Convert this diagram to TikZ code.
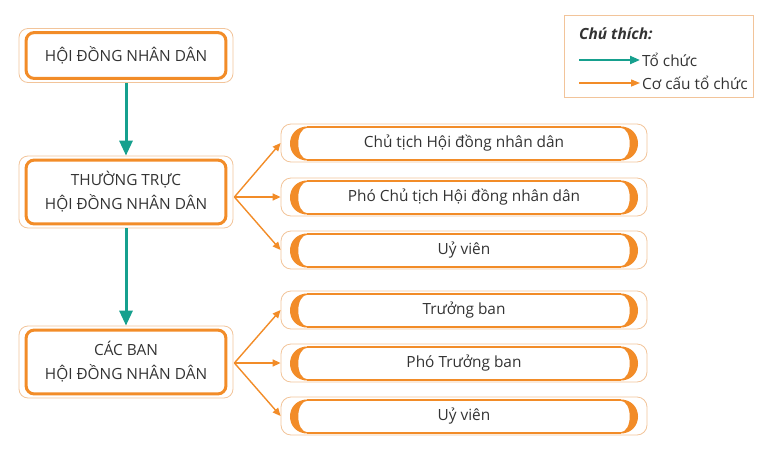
\documentclass[tikz,border=0pt]{standalone}
\usepackage{fontspec}
\setmainfont{Open Sans}
\usetikzlibrary{arrows.meta,calc}
\definecolor{org}{HTML}{F28C28}
\definecolor{pale}{HTML}{F2C49A}
\definecolor{teal1}{HTML}{16A08E}
\definecolor{txt}{HTML}{333333}
\tikzset{
  lbox/.style={draw=pale, line width=0.8pt, rounded corners=9pt, minimum width=214pt,
    inner sep=0pt, align=center, text=txt, font=\fontsize{15.4}{24}\selectfont},
  rbox/.style={draw=pale, line width=0.8pt, rounded corners=10pt, minimum width=366pt,
    minimum height=38pt, inner sep=0pt, text=txt, font=\fontsize{15.4}{18}\selectfont},
  tealarrow/.style={teal1, line width=3pt, -{Triangle[length=15pt,width=13pt]}},
  orgarrow/.style={org, line width=1.4pt, -{Triangle[length=8pt,width=7pt]}},
  legtext/.style={anchor=west, inner sep=0pt, text=txt, font=\fontsize{15.4}{18}\selectfont}
}
\begin{document}
\begin{tikzpicture}[x=1pt,y=-1pt]
\useasboundingbox (0,0) rectangle (764,461);
% left boxes
\node[lbox, minimum height=54pt] (L1) at (126,55.5) {HỘI ĐỒNG NHÂN DÂN};
\node[lbox, minimum height=72pt] (L2) at (126,192) {THƯỜNG TRỰC\\HỘI ĐỒNG NHÂN DÂN};
\node[lbox, minimum height=72pt] (L3) at (126,362) {CÁC BAN\\HỘI ĐỒNG NHÂN DÂN};
\foreach \n in {L1,L2,L3}{
  \draw[org, line width=3pt, rounded corners=8pt]
    ($(\n.north west)+(7.5,4.5)$) rectangle ($(\n.south east)+(-7.5,-4.5)$);
}
% right boxes
\node[rbox] (R1) at (464,143) {\raisebox{-1.5pt}{Chủ tịch Hội đồng nhân dân}};
\node[rbox] (R2) at (464,197) {\raisebox{-1.5pt}{Phó Chủ tịch Hội đồng nhân dân}};
\node[rbox] (R3) at (464,250) {\raisebox{-1.5pt}{Uỷ viên}};
\node[rbox] (R4) at (464,310) {\raisebox{-1.5pt}{Trưởng ban}};
\node[rbox] (R5) at (464,363) {\raisebox{-1.5pt}{Phó Trưởng ban}};
\node[rbox] (R6) at (464,416) {\raisebox{-1.5pt}{Uỷ viên}};
\foreach \n in {R1,R2,R3,R4,R5,R6}{
  \begin{scope}[shift={(\n.center)}]
    \draw[org, line width=1.2pt] (-157,-16) -- (157,-16) (-157,17) -- (157,17);
    \fill[org] (-156,-16.6) .. controls (-180,-16.6) and (-180,17.6) .. (-156,17.6)
      -- (-156,16.4) .. controls (-169,16.4) and (-169,-15.4) .. (-156,-15.4) -- cycle;
    \fill[org] (156,-16.6) .. controls (180,-16.6) and (180,17.6) .. (156,17.6)
      -- (156,16.4) .. controls (169,16.4) and (169,-15.4) .. (156,-15.4) -- cycle;
  \end{scope}
}
% connectors
\draw[tealarrow] (L1.south) -- (L2.north);
\draw[tealarrow] (L2.south) -- (L3.north);
\coordinate (o2) at ($(L2.east)+(1,5)$);
\coordinate (o3) at ($(L3.east)+(1,1)$);
\foreach \r in {R1,R2,R3}{\draw[orgarrow] (o2) -- (\r.west);}
\foreach \r in {R4,R5,R6}{\draw[orgarrow] (o3) -- (\r.west);}
% legend
\node[draw=pale, line width=0.8pt, minimum width=189pt, minimum height=82pt, inner sep=0pt] (leg) at (658.5,56) {};
\node[legtext, font=\fontsize{15.4}{18}\selectfont\bfseries\itshape] (lt) at (579,34) {Chú thích:};
\node[legtext] (t1) at (642,60) {Tổ chức};
\node[legtext] (t2) at (642,83) {Cơ cấu tổ chức};
\coordinate (a1) at (579,60);
\coordinate (a2) at (579,83);
\draw[teal1, line width=2.2pt, shorten >=2pt, -{Triangle[length=10pt,width=8pt]}] (a1) -- (t1.west);
\draw[org, line width=1.4pt, shorten >=2pt, -{Triangle[length=9pt,width=7pt]}] (a2) -- (t2.west);
\end{tikzpicture}
\end{document}
